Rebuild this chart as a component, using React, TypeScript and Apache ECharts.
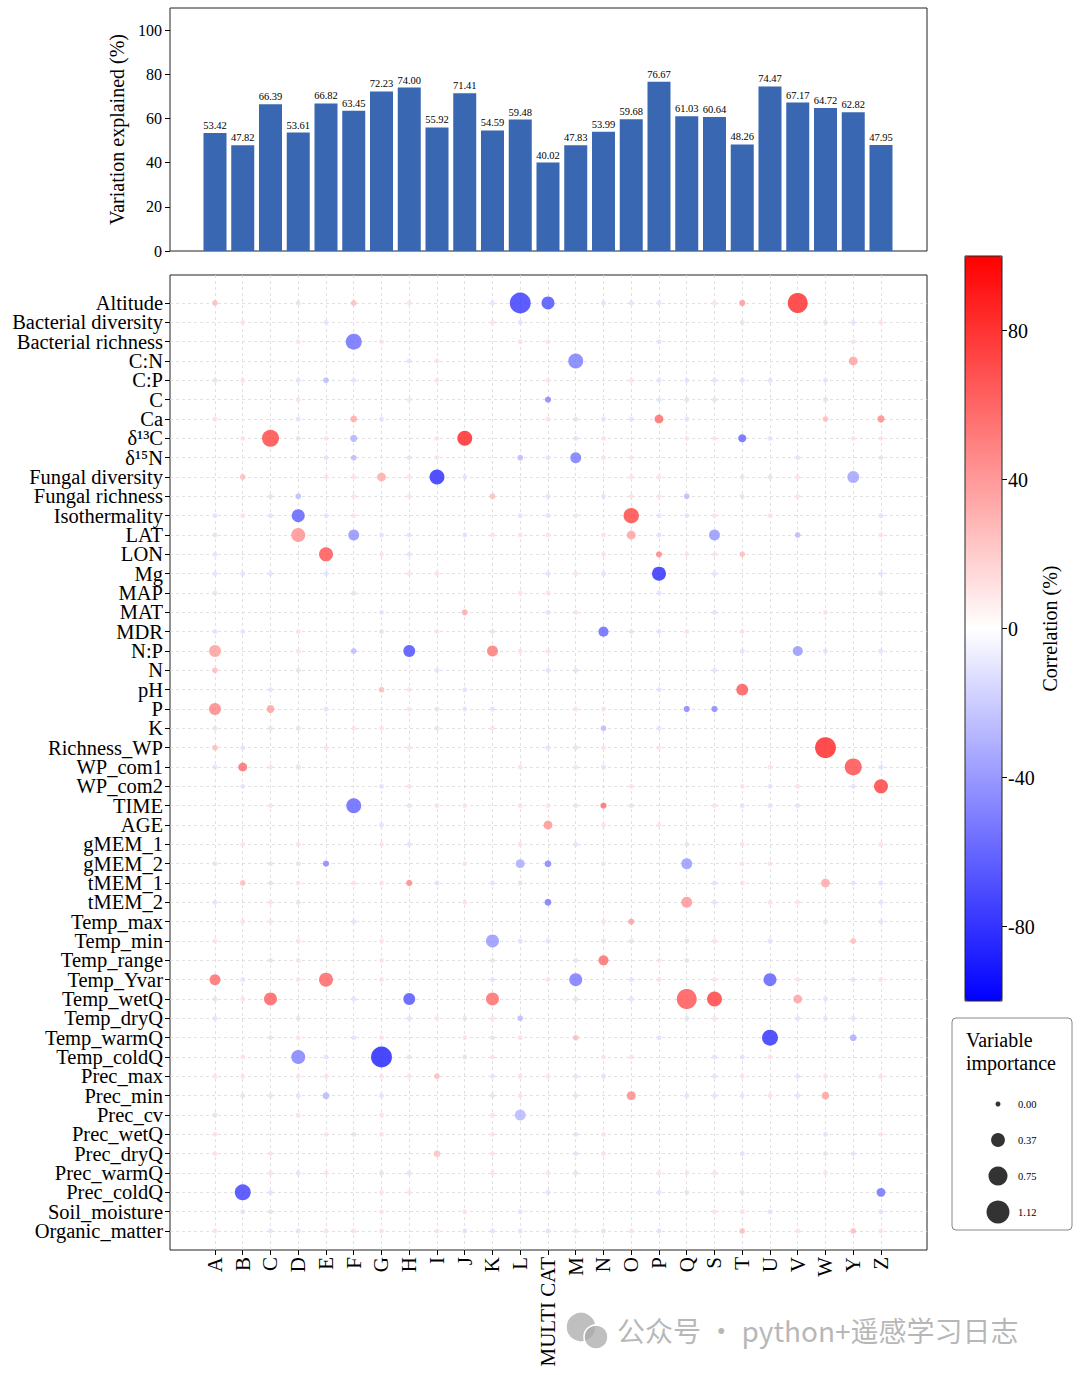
import React, { useEffect, useRef } from "react";
import * as echarts from "echarts";

const cols = ["A","B","C","D","E","F","G","H","I","J","K","L","MULTI CAT","M","N","O","P","Q","S","T","U","V","W","Y","Z"];
const barValues = [53.42,47.82,66.39,53.61,66.82,63.45,72.23,74.0,55.92,71.41,54.59,59.48,40.02,47.83,53.99,59.68,76.67,61.03,60.64,48.26,74.47,67.17,64.72,62.82,47.95];
const barTicks = [0,20,40,60,80,100];
const corrTicks = [-80,-40,0,40,80];
const sizeLegend = [0,0.37,0.75,1.12];

const rowLabels = ["Altitude","Bacterial diversity","Bacterial richness","C:N","C:P","C","Ca","δ¹³C","δ¹⁵N","Fungal diversity","Fungal richness","Isothermality","LAT","LON","Mg","MAP","MAT","MDR","N:P","N","pH","P","K","Richness_WP","WP_com1","WP_com2","TIME","AGE","gMEM_1","gMEM_2","tMEM_1","tMEM_2","Temp_max","Temp_min","Temp_range","Temp_Yvar","Temp_wetQ","Temp_dryQ","Temp_warmQ","Temp_coldQ","Prec_max","Prec_min","Prec_cv","Prec_wetQ","Prec_dryQ","Prec_warmQ","Prec_coldQ","Soil_moisture","Organic_matter"];

// faint background dots, 25 columns per row (groups of 5): p/b faint pink/blue, P/B light pink/blue, g grey
const faintCodes = [
  "P..g. P.p.. b...b bb.p. .....",
  ".p..b ..... pb... ....g ..gbp",
  "...p. .p... .pp.. .b... ...p.",
  "..... ..bp. ..... ..... .....",
  "gp.bB b..p. ..p.. pbbbb b.b..",
  "...p. ..p.. ..... .bgg. ..g..",
  "p..b. .b... ..pgb b.b.. ..P..",
  ".p.gp ...p. ...bp ..pp. b..pp",
  "....b B.bp. .Bb.p p.... .b..g",
  ".P..p p.p.b ..... pp..g gp...",
  "..gB. p.p.. P.b.b ppB.g .p...",
  "bpb.b p.... .bbp. .bbp. p...b",
  "g.... .bb.b ppp.p .b... .B..p",
  "b.... .pb.. ....p ..ppP .....",
  "bbb.b ..pp. ..bpb ...b. ....b",
  "g.... g.... .pp.. .b... ....g",
  "..... .b... ..bp. ...b. ..p..",
  "bb.p. .g.p. g.... gbp.p .....",
  "...p. B.... .pp.. ....b ..b.b",
  "P..g. ...b. ..bb. ...b. .....",
  "..b.. .Pp.b ..... .b... .....",
  "....b ..pgb b..pp ..... .....",
  "g.gg. pp.g. p...B .b... .....",
  "Pb..p ..p.. ..bgp .p... .....",
  "b.pg. ..... .p.pb ..... p...b",
  ".b... .bp.. ..... p...p bp.b.",
  "..p.. ..bpp .ppb. g..pb bb...",
  "..... .b... ....p .p... .....",
  ".p.p. .pb.. .p.b. ..g.p ....p",
  "g.gg. ....p ....p ....p p....",
  ".Pgp. pp.b. bg... ...bp ...bb",
  "b.pg. ....p ..... ...b. pp..b",
  ".pp.. b.... ....p ..... ..g.b",
  "p..p. .p... .bb.g g.gp. b..P.",
  "..gp. .p... g..b. .pg.. .....",
  ".b.p. .p... b.p.. bp.p. .p.bp",
  "gp... b.... ...g. b.... ..b..",
  "b..g. ..bpg pB... ..gp. .bbb.",
  "..gp. bp..p gp.P. .b... .....",
  ".p..b ..g.g p...p p..bb p....",
  "pp.pp .ppP. bppbb ...bp .bp.p",
  ".ggb. .b... gp.g. ..bbb pb...",
  "g..p. .p... p.... ..... .....",
  "p...p gp... p..bp ..... ..b.p",
  "p.p.. ..... p..bp ....b ..gb.",
  "..pbp .gb.. p.pg. .ppp. ..p..",
  "..b.. .pp.. ..b.. .bg.g .....",
  ".bg.. .p..p .b... ...pp b...b",
  "p.bbp pp.pb bbbpg pb..P .p.Pp",
];
const codeImp: Record<string, number> = { p: 0, b: 0, P: 0.02, B: 0.02 };
const codeCorr: Record<string, number> = { p: 12, b: -12, P: 28, B: -28 };

// notable bubbles: [row, column, importance, correlation]
const notable = [
  [0,11,0.92,-80],[0,12,0.32,-72],[0,19,0.03,42],[0,21,0.83,85],
  [2,5,0.51,-60],
  [3,13,0.44,-53],[3,23,0.12,38],
  [5,12,0.03,-50],
  [6,5,0.05,35],[6,16,0.12,60],[6,24,0.06,48],
  [7,2,0.59,75],[7,5,0.06,-32],[7,9,0.44,88],[7,19,0.09,-62],
  [8,13,0.21,-55],
  [9,6,0.12,35],[9,8,0.44,-85],[9,23,0.26,-38],
  [11,3,0.32,-65],[11,15,0.47,75],
  [12,3,0.38,45],[12,5,0.21,-45],[12,15,0.12,38],[12,18,0.21,-43],
  [13,4,0.38,70],[13,16,0.03,50],
  [14,16,0.38,-85],
  [16,9,0.03,35],
  [17,14,0.17,-62],
  [18,0,0.26,40],[18,7,0.26,-72],[18,10,0.21,55],[18,21,0.17,-43],
  [20,19,0.26,68],
  [21,0,0.26,50],[21,2,0.08,38],[21,17,0.03,-50],[21,18,0.03,-50],
  [23,22,0.92,88],
  [24,1,0.12,60],[24,23,0.59,73],
  [25,24,0.38,78],
  [26,5,0.44,-64],[26,14,0.03,60],
  [27,12,0.12,43],
  [29,4,0.03,-50],[29,11,0.12,-35],[29,12,0.05,-50],[29,17,0.21,-42],
  [30,7,0.03,48],[30,22,0.12,36],
  [31,12,0.05,-55],[31,17,0.21,43],
  [32,15,0.03,40],
  [33,10,0.32,-43],
  [34,14,0.17,60],
  [35,0,0.21,60],[35,4,0.38,63],[35,13,0.32,-55],[35,20,0.32,-65],
  [36,2,0.32,65],[36,7,0.26,-70],[36,10,0.32,60],[36,17,0.83,70],[36,18,0.44,78],[36,21,0.12,38],
  [38,20,0.51,-83],[38,23,0.05,-35],
  [39,3,0.38,-52],[39,6,0.92,-90],
  [41,4,0.05,-30],[41,15,0.12,48],[41,22,0.08,38],
  [42,11,0.21,-30],
  [44,8,0.05,25],
  [46,1,0.51,-78],[46,24,0.12,-58],
];

const FONT = "Liberation Serif";

function buildOption() {
  const colIdx = cols.map((_, i) => i);
  const rowIdx = rowLabels.map((_, i) => i);
  const xMin = -1.6216, xMax = 25.658;
  const yMin = -1.448, yMax = 48.983;
  // padded label positions: the outer two are blank guards so every real row label is kept
  const rowLabelPos = [-1.3, ...rowIdx, 48.9];

  const notableKey = new Set(notable.map((n) => n[0] * 100 + n[1]));
  const mainData: number[][] = [];
  const grayData: number[][] = [];
  faintCodes.forEach((s, r) => {
    s.replace(/ /g, "").split("").forEach((ch, c) => {
      if (notableKey.has(r * 100 + c)) return;
      if (ch === "g") grayData.push([c, r]);
      else if (ch in codeImp) mainData.push([c, r, codeImp[ch], codeCorr[ch]]);
    });
  });
  notable.forEach(([r, c, imp, corr]) => mainData.push([c, r, imp, corr]));
  mainData.sort((a, b) => a[2] - b[2]);

  const sizeOf = (imp: number) => Math.sqrt(25 + 450 * imp);
  const gridLineStyle = { color: "#d9d9d9", type: [3, 3] as any, width: 0.8 };
  const noLine = { show: false, onZero: false };
  const tick = (vals: number[]) => ({ show: true, customValues: vals, length: 5, inside: false, lineStyle: { color: "#000", width: 1 } });

  return {
    animation: false,
    backgroundColor: "#ffffff",
    textStyle: { fontFamily: FONT, color: "#000" },
    grid: [
      { left: 170, right: 153, top: 8, height: 243, show: true, borderColor: "#222", borderWidth: 1, backgroundColor: "transparent" },
      { left: 170, right: 153, top: 275, height: 975, show: true, borderColor: "#222", borderWidth: 1, backgroundColor: "transparent" },
      { left: 965, width: 37, top: 256, height: 745, show: true, borderColor: "#222", borderWidth: 1, backgroundColor: "transparent", z: 10 },
      { left: 980, width: 36, top: 1086, height: 144, z: 10 },
    ],
    xAxis: [
      { gridIndex: 0, type: "value", min: xMin, max: xMax, show: false, axisLine: noLine },
      {
        gridIndex: 1, type: "value", min: xMin, max: xMax, position: "bottom",
        axisLine: noLine, splitLine: { show: false },
        axisTick: tick(colIdx),
        axisLabel: { customValues: colIdx, rotate: 90, showMinLabel: true, showMaxLabel: true, formatter: (v: number) => cols[v] ?? "", fontSize: 21, fontFamily: FONT, color: "#000", margin: 7 },
      },
      { gridIndex: 2, type: "value", show: false, axisLine: noLine },
      { gridIndex: 3, type: "value", min: -1, max: 1, show: false, axisLine: noLine },
    ],
    yAxis: [
      {
        gridIndex: 0, type: "value", min: 0, max: 110, position: "left",
        name: "Variation explained (%)", nameLocation: "middle", nameRotate: 90, nameGap: 38,
        nameTextStyle: { fontSize: 20, fontFamily: FONT, color: "#000" },
        axisLine: noLine, splitLine: { show: false },
        axisTick: tick(barTicks),
        axisLabel: { customValues: barTicks, showMinLabel: true, showMaxLabel: true, fontSize: 16, fontFamily: FONT, color: "#000", margin: 8 },
      },
      {
        gridIndex: 1, type: "value", inverse: true, min: yMin, max: yMax, position: "left",
        axisLine: noLine, splitLine: { show: false },
        axisTick: tick(rowIdx),
        axisLabel: {
          customValues: rowLabelPos, showMinLabel: false, showMaxLabel: false, hideOverlap: false,
          formatter: (v: number) => (Number.isInteger(v) ? rowLabels[v] ?? "" : ""),
          fontSize: 20.5, lineHeight: 14, fontFamily: FONT, color: "#000", margin: 7,
        },
      },
      {
        gridIndex: 2, type: "value", position: "right", min: -100, max: 100,
        name: "Correlation (%)", nameLocation: "middle", nameRotate: 90, nameGap: 38,
        nameTextStyle: { fontSize: 20, fontFamily: FONT, color: "#000" },
        axisLine: noLine, splitLine: { show: false },
        axisTick: tick(corrTicks),
        axisLabel: { customValues: corrTicks, showMinLabel: true, showMaxLabel: true, fontSize: 20, fontFamily: FONT, color: "#000", margin: 6 },
      },
      {
        gridIndex: 3, type: "category", inverse: true, position: "right", z: 30,
        data: sizeLegend.map((v) => v.toFixed(2)),
        axisLine: noLine, axisTick: { show: false }, splitLine: { show: false },
        axisLabel: { fontSize: 10.5, fontFamily: FONT, color: "#000", margin: 2 },
      },
    ],
    visualMap: {
      type: "continuous", min: -100, max: 100, dimension: 3, seriesIndex: 2,
      inRange: { color: ["#0000ff", "#ffffff", "#ff0000"] },
      calculable: false, realtime: false, hoverLink: false,
      itemWidth: 37, itemHeight: 745, left: 965, top: 256, padding: 0,
      orient: "vertical", text: null, showLabel: false,
    },
    series: [
      {
        type: "bar", xAxisIndex: 0, yAxisIndex: 0, barWidth: 23,
        data: barValues.map((v, i) => [i, v]),
        itemStyle: { color: "#3967b2" },
        label: { show: true, position: "top", distance: 2, fontSize: 10.5, fontFamily: FONT, color: "#000", formatter: (p: any) => p.value[1].toFixed(2) },
      },
      {
        type: "scatter", xAxisIndex: 1, yAxisIndex: 1, z: 2,
        data: grayData, symbolSize: 5, itemStyle: { color: "#e3e3e3" },
        markLine: {
          z: 1, silent: true, symbol: ["none", "none"], label: { show: false }, lineStyle: gridLineStyle,
          emphasis: { disabled: true },
          data: [...colIdx.map((i) => ({ xAxis: i })), ...rowIdx.map((i) => ({ yAxis: i }))],
        },
      },
      {
        type: "scatter", xAxisIndex: 1, yAxisIndex: 1, z: 3,
        data: mainData, symbolSize: (v: number[]) => sizeOf(v[2]),
      },
      {
        type: "scatter", xAxisIndex: 3, yAxisIndex: 3, z: 12,
        data: sizeLegend.map((v, i) => [0, i, v]),
        symbolSize: (v: number[]) => sizeOf(v[2]),
        itemStyle: { color: "#000" },
      },
    ],
    graphic: [
      { type: "rect", z: -1, shape: { x: 952, y: 1018, width: 120, height: 212, r: 4 }, style: { fill: "#fff", stroke: "#888", lineWidth: 1 } },
      { type: "text", z: 11, x: 966, y: 1028, style: { text: "Variable\nimportance", font: `20px "${FONT}"`, fill: "#000", lineHeight: 23 } },
      { type: "circle", z: 20, shape: { cx: 581, cy: 1327, r: 15 }, style: { fill: "rgba(170,170,170,0.75)", stroke: "#fff", lineWidth: 1.5 } },
      { type: "circle", z: 21, shape: { cx: 596, cy: 1337, r: 12 }, style: { fill: "rgba(170,170,170,0.75)", stroke: "#fff", lineWidth: 1.5 } },
      { type: "text", z: 22, x: 617, y: 1316, style: { text: "公众号 · python+遥感学习日志", font: `28px "Noto Sans CJK SC"`, fill: "rgba(160,160,160,0.75)" } },
    ],
  };
}

export default function App() {
  const ref = useRef<HTMLDivElement>(null);
  useEffect(() => {
    if (!ref.current) return;
    const chart = echarts.init(ref.current, undefined, { renderer: "svg" });
    chart.setOption(buildOption() as any);
    return () => chart.dispose();
  }, []);
  return <div ref={ref} style={{ position: "absolute", left: 0, top: 0, width: 1080, height: 1375, background: "#fff" }} />;
}
